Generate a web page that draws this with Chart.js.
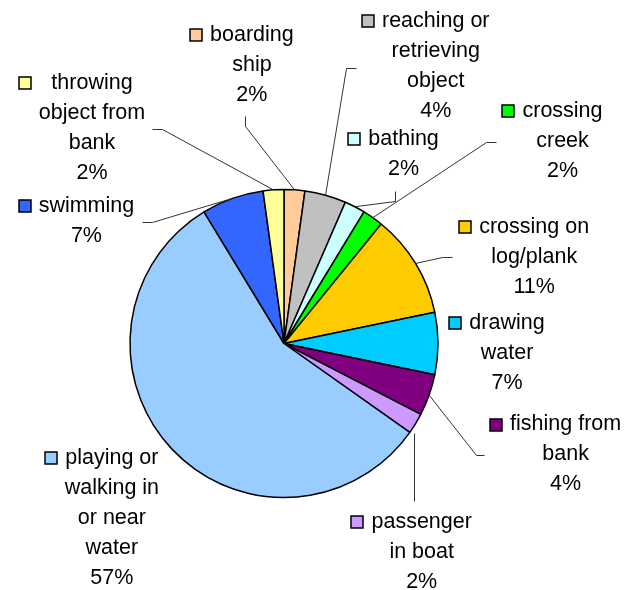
<!DOCTYPE html>
<html>
<head>
<meta charset="utf-8">
<script src="https://cdn.jsdelivr.net/npm/chart.js@4/dist/chart.umd.min.js"></script>
<style>
  html, body { margin: 0; padding: 0; background: #ffffff; }
  #wrap { width: 629px; height: 590px; position: relative; }
  canvas { display: block; }
</style>
</head>
<body>
<div id="wrap"><canvas id="c" width="629" height="590"></canvas></div>
<script>
// ---- data ----
const categories = [
  'boarding ship',
  'reaching or retrieving object',
  'bathing',
  'crossing creek',
  'crossing on log/plank',
  'drawing water',
  'fishing from bank',
  'passenger in boat',
  'playing or walking in or near water',
  'swimming',
  'throwing object from bank'
];
// estimated counts (consistent with the printed percentages)
const counts = [1, 2, 1, 1, 5, 3, 2, 1, 26, 3, 1];
const labelLines = [
  ['boarding', 'ship'],
  ['reaching or', 'retrieving', 'object'],
  ['bathing'],
  ['crossing', 'creek'],
  ['crossing on', 'log/plank'],
  ['drawing', 'water'],
  ['fishing from', 'bank'],
  ['passenger', 'in boat'],
  ['playing or', 'walking in', 'or near', 'water'],
  ['swimming'],
  ['throwing', 'object from', 'bank']
];

// ---- styles / layout ----
const colors = ['#FFCC99', '#C0C0C0', '#CCFFFF', '#00FF00', '#FFCC00', '#00CCFF',
                '#800080', '#CC99FF', '#99CCFF', '#3366FF', '#FFFF99'];
// label anchor offset from the slice's outer mid point (center x, first line middle y)
const labelOffsets = [
  [-42.6, -154.9], [110.2, -174.3], [48.7, -67.9], [189.7, -106.8], [118.6, -36.3],
  [69, -20.8], [136.5, 29.5], [6.1, 98.7], [-59.6, 9.1], [-146, 7.5], [-181.5, -106.9]
];
// leader polylines relative to label anchor; 'arc' = finish at slice mid point
const leaders = [
  {pts: [[-7, 81], [-7, 91]], arc: true},
  {pts: [[-79.3, 46.7], [-89.3, 46.7]], arc: true},
  {pts: [[-9, 52], [-9, 62]], arc: true},
  {pts: [[-66.3, 30.7], [-76.3, 30.7]], arc: true},
  {pts: [[-82.3, 30], [-92, 30]], arc: true},
  null,
  {pts: [[-81.5, 30], [-89.8, 30]], arc: true},
  {pts: [[-7.5, -21], [-7.5, -89.4]], arc: false},
  null,
  {pts: [[55.7, 16], [65.7, 16]], arc: true},
  {pts: [[60, 46], [70, 46]], arc: true}
];

const FONT = '21.5px "Liberation Sans", Arial, sans-serif';
const LINE_H = 30;

const total = counts.reduce((a, b) => a + b, 0);

const labelPlugin = {
  id: 'outLabels',
  afterDatasetsDraw(chart) {
    const ctx = chart.ctx;
    const meta = chart.getDatasetMeta(0);
    ctx.save();
    meta.data.forEach((arc, i) => {
      const p = arc.getProps(['x', 'y', 'startAngle', 'endAngle', 'outerRadius'], true);
      const mid = (p.startAngle + p.endAngle) / 2;
      const ax = p.x + Math.cos(mid) * p.outerRadius;
      const ay = p.y + Math.sin(mid) * p.outerRadius;
      const cx = ax + labelOffsets[i][0];
      const cy = ay + labelOffsets[i][1];

      // leader line
      const ld = leaders[i];
      if (ld) {
        ctx.beginPath();
        ctx.strokeStyle = '#333333';
        ctx.lineWidth = 1;
        ld.pts.forEach((q, k) => {
          const X = Math.round(cx + q[0]) + 0.5, Y = Math.round(cy + q[1]) + 0.5;
          if (k === 0) ctx.moveTo(X, Y); else ctx.lineTo(X, Y);
        });
        if (ld.arc) ctx.lineTo(ax, ay);
        ctx.stroke();
      }

      // text
      ctx.font = FONT;
      ctx.fillStyle = '#000000';
      ctx.textAlign = 'center';
      ctx.textBaseline = 'middle';
      const pct = Math.round(counts[i] / total * 100) + '%';
      const lines = labelLines[i].concat([pct]);
      let maxW = 0;
      labelLines[i].forEach(t => { maxW = Math.max(maxW, ctx.measureText(t).width); });
      lines.forEach((t, k) => ctx.fillText(t, cx, cy + k * LINE_H));

      // legend key
      const sx = Math.round(cx - maxW / 2 - 8 - 12);
      const sy = Math.round(cy - 6);
      ctx.fillStyle = colors[i];
      ctx.fillRect(sx, sy, 12, 12);
      ctx.strokeStyle = '#000000';
      ctx.lineWidth = 1.5;
      ctx.strokeRect(sx, sy, 12, 12);
    });
    ctx.restore();
  }
};

new Chart(document.getElementById('c'), {
  type: 'pie',
  data: {
    labels: categories,
    datasets: [{
      data: counts,
      backgroundColor: colors,
      borderColor: '#000000',
      borderWidth: 1.5,
      radius: 154
    }]
  },
  options: {
    responsive: false,
    animation: false,
    devicePixelRatio: 1,
    layout: { padding: { left: 0, right: 61, top: 97, bottom: 0 } },
    plugins: {
      legend: { display: false },
      tooltip: { enabled: false },
      title: { display: false }
    }
  },
  plugins: [labelPlugin]
});
</script>
</body>
</html>
